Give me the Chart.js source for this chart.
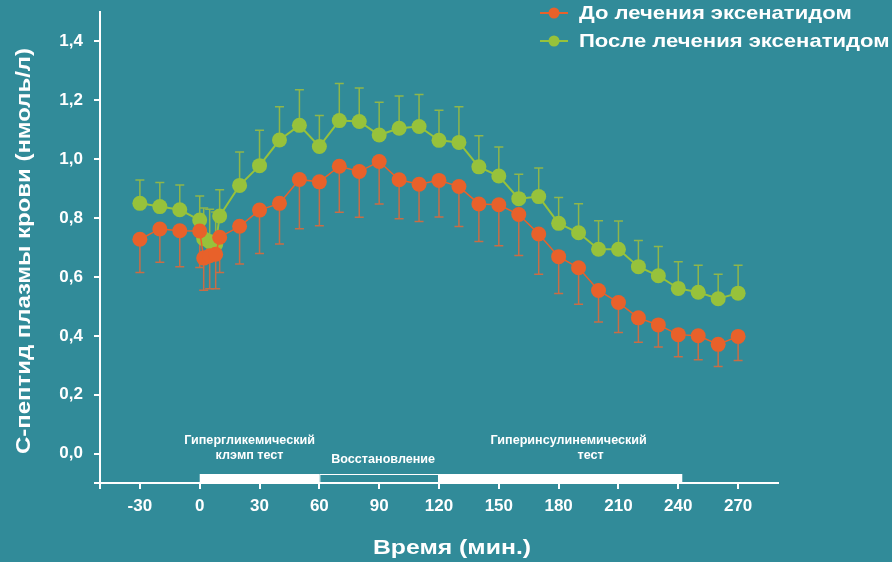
<!DOCTYPE html>
<html lang="ru">
<head>
<meta charset="utf-8">
<title>С-пептид плазмы крови</title>
<script src="https://cdn.jsdelivr.net/npm/chart.js@4.4.1/dist/chart.umd.min.js"></script>
<style>
  html, body { margin: 0; padding: 0; background: #318b99; }
  #wrap { width: 892px; height: 562px; }
</style>
</head>
<body>
<div id="wrap"><canvas id="chart" width="892" height="562"></canvas></div>
<script>
// ---------- Data ----------
var timesMin = [-30, -20, -10, 0, 2, 5, 8, 10, 20, 30, 40, 50, 60, 70, 80, 90, 100,
  110, 120, 130, 140, 150, 160, 170, 180, 190, 200, 210, 220, 230, 240, 250, 260, 270];

// before exenatide treatment (orange), error bars drawn downwards
var beforeValues = [0.728, 0.763, 0.757, 0.756, 0.664, 0.672, 0.677, 0.735, 0.772, 0.827,
  0.850, 0.931, 0.923, 0.976, 0.958, 0.992, 0.930, 0.915, 0.928, 0.907, 0.848, 0.845,
  0.812, 0.746, 0.669, 0.631, 0.554, 0.513, 0.461, 0.437, 0.404, 0.400, 0.371, 0.398];
var beforeErrors = [0.113, 0.113, 0.122, 0.124, 0.109, 0.112, 0.117, 0.120, 0.128, 0.147,
  0.138, 0.167, 0.149, 0.156, 0.155, 0.144, 0.132, 0.127, 0.124, 0.136, 0.128, 0.139,
  0.139, 0.137, 0.125, 0.124, 0.107, 0.102, 0.083, 0.075, 0.075, 0.081, 0.075, 0.082];

// after exenatide treatment (green), error bars drawn upwards
var afterValues = [0.850, 0.839, 0.828, 0.793, 0.730, 0.720, 0.710, 0.807, 0.911, 0.978,
  1.065, 1.115, 1.043, 1.131, 1.128, 1.082, 1.105, 1.111, 1.064, 1.057, 0.974, 0.943,
  0.866, 0.873, 0.782, 0.750, 0.694, 0.694, 0.635, 0.604, 0.561, 0.548, 0.526, 0.545];
var afterErrors = [0.079, 0.082, 0.084, 0.082, 0.104, 0.110, 0.111, 0.089, 0.113, 0.120,
  0.113, 0.121, 0.105, 0.126, 0.114, 0.111, 0.110, 0.109, 0.102, 0.121, 0.106, 0.098,
  0.083, 0.097, 0.088, 0.099, 0.097, 0.096, 0.089, 0.099, 0.091, 0.092, 0.083, 0.095];

var seriesLabels = ["До лечения эксенатидом", "После лечения эксенатидом"];

var xTicks = [-50, -30, 0, 30, 60, 90, 120, 150, 180, 210, 240, 270];
var yTicks = [-0.1, 0, 0.2, 0.4, 0.6, 0.8, 1.0, 1.2, 1.4];
var yTickLabels = ["", "0,0", "0,2", "0,4", "0,6", "0,8", "1,0", "1,2", "1,4"];

// study phases along the time axis: [start, end, filled]
var phaseStart = [0, 60, 120];
var phaseEnd = [60, 120, 242];
var phaseFilled = [true, false, true];

var xTitle = "Время (мин.)";
var yTitle = "С-пептид плазмы крови (нмоль/л)";

(function () {
  "use strict";

  var FONT = "'Liberation Sans', Arial, sans-serif";
  var ORANGE = "#e8612a";
  var GREEN = "#97c23b";
  var ORANGE_ERR = "#c96d45";
  var GREEN_ERR = "#8fb64a";
  var WHITE = "#ffffff";

  function toPoints(vals) {
    return vals.map(function (v, i) { return { x: timesMin[i], y: v }; });
  }

  // the original lettering is a little wider than Liberation Sans,
  // so some texts get a horizontal stretch
  function stretchedText(ctx, text, x, y, align, stretch) {
    ctx.save();
    ctx.translate(x, y);
    ctx.scale(stretch, 1);
    ctx.textAlign = align;
    ctx.fillText(text, 0, 0);
    ctx.restore();
  }

  // ---------- Error bars (one-sided) ----------
  var errorBars = {
    id: "errorBars",
    beforeDatasetsDraw: function (chart) {
      var ctx = chart.ctx;
      var xs = chart.scales.x, ys = chart.scales.y;
      var sets = [
        { vals: afterValues, errs: afterErrors, dir: 1, color: GREEN_ERR },
        { vals: beforeValues, errs: beforeErrors, dir: -1, color: ORANGE_ERR }
      ];
      ctx.save();
      ctx.lineWidth = 1.5;
      sets.forEach(function (s) {
        ctx.strokeStyle = s.color;
        s.vals.forEach(function (v, i) {
          var px = xs.getPixelForValue(timesMin[i]);
          var p0 = ys.getPixelForValue(v);
          var p1 = ys.getPixelForValue(v + s.dir * s.errs[i]);
          ctx.beginPath();
          ctx.moveTo(px, p0);
          ctx.lineTo(px, p1);
          ctx.moveTo(px - 4.5, p1);
          ctx.lineTo(px + 4.5, p1);
          ctx.stroke();
        });
      });
      ctx.restore();
    }
  };

  // ---------- Phase bars, annotation text, axis titles, legend ----------
  var decorations = {
    id: "decorations",
    afterDraw: function (chart) {
      var ctx = chart.ctx;
      var xs = chart.scales.x;
      var area = chart.chartArea;
      ctx.save();

      // phase bars sitting on the x axis
      var barH = 9;
      phaseStart.forEach(function (s, i) {
        var x0 = xs.getPixelForValue(s);
        var x1 = xs.getPixelForValue(phaseEnd[i]);
        if (phaseFilled[i]) {
          ctx.fillStyle = WHITE;
          ctx.fillRect(x0, area.bottom - barH, x1 - x0, barH);
        } else {
          ctx.strokeStyle = WHITE;
          ctx.lineWidth = 1;
          ctx.strokeRect(x0 + 0.5, area.bottom - barH + 0.5, x1 - x0 - 1, barH - 1);
        }
      });

      // phase labels
      ctx.fillStyle = WHITE;
      ctx.font = "bold 12px " + FONT;
      ctx.textBaseline = "middle";
      stretchedText(ctx, "Гипергликемический", xs.getPixelForValue(25), 441, "center", 1.05);
      stretchedText(ctx, "клэмп тест", xs.getPixelForValue(25), 456, "center", 1.05);
      stretchedText(ctx, "Восстановление", xs.getPixelForValue(92), 460, "center", 1.05);
      stretchedText(ctx, "Гиперинсулинемический", xs.getPixelForValue(185), 441, "center", 1.05);
      stretchedText(ctx, "тест", xs.getPixelForValue(196), 456, "center", 1.05);

      // axis titles
      ctx.font = "bold 21px " + FONT;
      stretchedText(ctx, xTitle, 452, 548, "center", 1.18);
      ctx.save();
      ctx.translate(24, 251);
      ctx.rotate(-Math.PI / 2);
      stretchedText(ctx, yTitle, 0, 0, "center", 1.14);
      ctx.restore();

      // legend (top right, overlapping the plot area)
      var colors = [ORANGE, GREEN];
      ctx.font = "bold 19px " + FONT;
      seriesLabels.forEach(function (label, i) {
        var cy = 13 + i * 28;
        ctx.strokeStyle = colors[i];
        ctx.lineWidth = 2;
        ctx.beginPath();
        ctx.moveTo(540, cy);
        ctx.lineTo(568, cy);
        ctx.stroke();
        ctx.fillStyle = colors[i];
        ctx.beginPath();
        ctx.arc(554, cy, 5.5, 0, Math.PI * 2);
        ctx.fill();
        ctx.fillStyle = WHITE;
        stretchedText(ctx, label, 579, cy + 1, "left", 1.16);
      });
      ctx.restore();
    }
  };

  // ---------- Chart ----------
  var canvas = document.getElementById("chart");
  new Chart(canvas.getContext("2d"), {
    type: "line",
    data: {
      datasets: [
        {
          label: seriesLabels[0],
          data: toPoints(beforeValues),
          borderColor: ORANGE,
          backgroundColor: ORANGE,
          borderWidth: 1.5,
          pointRadius: 7.5,
          pointBorderWidth: 0,
          pointBackgroundColor: ORANGE,
          tension: 0
        },
        {
          label: seriesLabels[1],
          data: toPoints(afterValues),
          borderColor: GREEN,
          backgroundColor: GREEN,
          borderWidth: 2,
          pointRadius: 7.5,
          pointBorderWidth: 0,
          pointBackgroundColor: GREEN,
          tension: 0
        }
      ]
    },
    options: {
      responsive: false,
      devicePixelRatio: 1,
      animation: false,
      layout: { padding: { top: 12, right: 114, bottom: 0, left: 0 } },
      plugins: { legend: { display: false }, tooltip: { enabled: false } },
      scales: {
        x: {
          type: "linear",
          min: -50,
          max: 290,
          afterFit: function (s) {
            s.height = 79;
            s.paddingLeft = 0;
            s.paddingRight = 0;
          },
          afterBuildTicks: function (s) {
            s.ticks = xTicks.map(function (v) { return { value: v }; });
          },
          border: { color: WHITE, width: 2 },
          grid: { drawOnChartArea: false, color: WHITE, lineWidth: 2, tickLength: 6 },
          ticks: {
            color: WHITE,
            padding: 7,
            maxRotation: 0,
            font: { family: FONT, size: 17, weight: "bold" },
            callback: function (v) { return v === -50 ? "" : String(v); }
          }
        },
        y: {
          type: "linear",
          min: -0.1,
          max: 1.5,
          afterFit: function (s) {
            s.width = 100;
            s.paddingTop = 0;
            s.paddingBottom = 0;
          },
          afterBuildTicks: function (s) {
            s.ticks = yTicks.map(function (v) { return { value: v }; });
          },
          border: { color: WHITE, width: 2 },
          grid: { drawOnChartArea: false, color: WHITE, lineWidth: 2, tickLength: 6 },
          ticks: {
            color: WHITE,
            padding: 11,
            font: { family: FONT, size: 17, weight: "bold" },
            callback: function (v, i) { return yTickLabels[i]; }
          }
        }
      }
    },
    plugins: [errorBars, decorations]
  });
})();
</script>
</body>
</html>
